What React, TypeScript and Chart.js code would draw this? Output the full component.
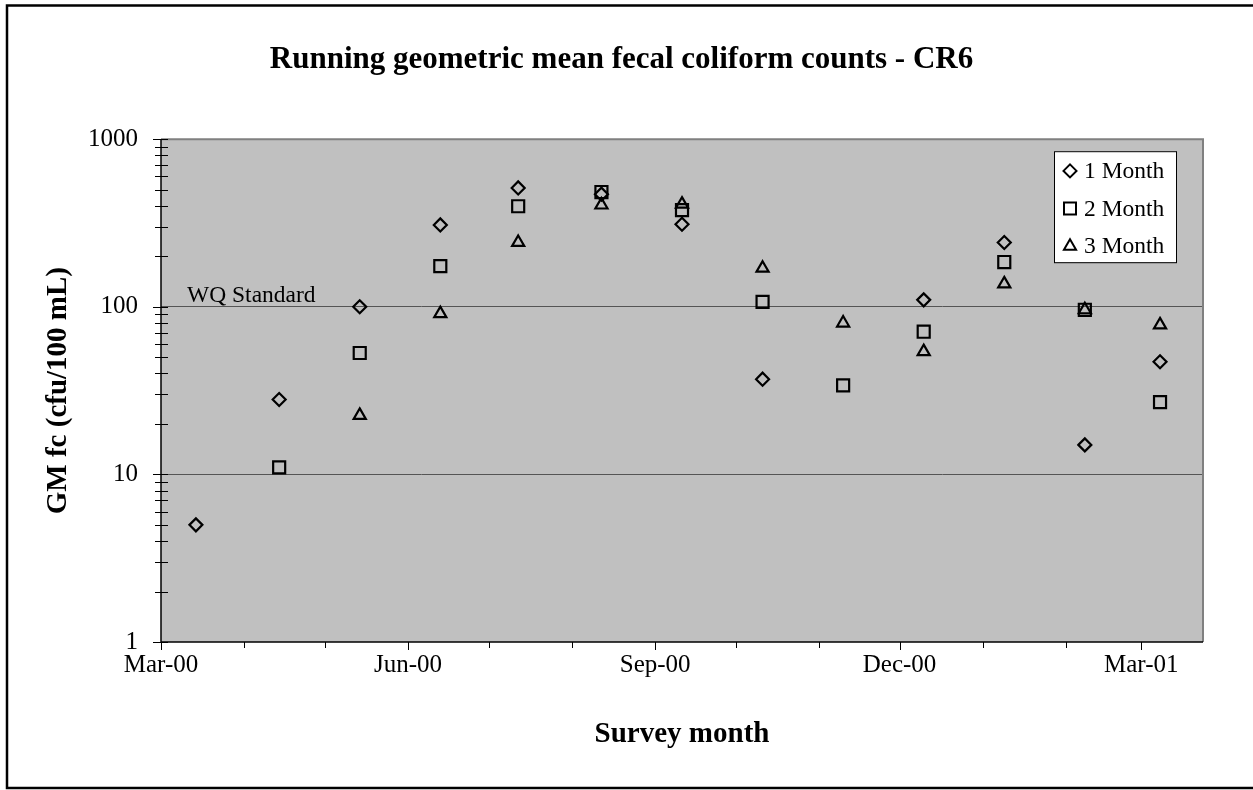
import React, { useEffect, useRef } from 'react';
import { Chart, registerables } from 'chart.js';

Chart.register(...registerables);

// ---------------- data ----------------
const surveyDates = [
  '2000-03-14', '2000-04-14', '2000-05-14', '2000-06-13', '2000-07-12', '2000-08-12', '2000-09-11',
  '2000-10-11', '2000-11-10', '2000-12-10', '2001-01-09', '2001-02-08', '2001-03-08',
];
const oneMonth = [5, 28, 100, 308, 512, 470, 311, 37, null, 110, 242, 15, 47];
const twoMonth = [null, 11, 53, 175, 398, 484, 377, 107, 34, 71, 185, 96, 27];
const threeMonth = [null, null, 22.5, 91, 242, 405, 410, 170, 80, 54, 137, 96, 78];
const seriesNames = ['1 Month', '2 Month', '3 Month'];

const axisStart = '2000-03-01';
const axisEnd = '2001-03-24';
const monthTicks = [
  '2000-03-01', '2000-04-01', '2000-05-01', '2000-06-01', '2000-07-01', '2000-08-01', '2000-09-01',
  '2000-10-01', '2000-11-01', '2000-12-01', '2001-01-01', '2001-02-01', '2001-03-01',
];
const monthLabels = ['Mar-00', '', '', 'Jun-00', '', '', 'Sep-00', '', '', 'Dec-00', '', '', 'Mar-01'];
const yTicks = [1, 10, 100, 1000];
const wqStandard = 100;
const wqLabel = 'WQ Standard';

const titleText = 'Running geometric mean fecal coliform counts - CR6';
const xTitle = 'Survey month';
const yTitle = 'GM fc (cfu/100 mL)';

// ---------------- helpers ----------------
const SERIF = "'Liberation Serif', 'Times New Roman', serif";
const dayOf = (s: string) => (Date.parse(s) - Date.parse(axisStart)) / 86400000;

const toPoints = (vals: (number | null)[]) =>
  surveyDates
    .map((d, i) => ({ x: dayOf(d), y: vals[i] }))
    .filter((p) => p.y !== null) as { x: number; y: number }[];

function drawMarker(ctx: CanvasRenderingContext2D, style: string, x: number, y: number) {
  ctx.beginPath();
  if (style === 'diamond') {
    const r = 6.5;
    ctx.moveTo(x, y - r);
    ctx.lineTo(x + r, y);
    ctx.lineTo(x, y + r);
    ctx.lineTo(x - r, y);
    ctx.closePath();
  } else if (style === 'square') {
    const h = 6;
    ctx.rect(x - h, y - h, 2 * h, 2 * h);
  } else {
    const r = 7;
    ctx.moveTo(x, y - r);
    ctx.lineTo(x + r * Math.sin((2 * Math.PI) / 3), y + r / 2);
    ctx.lineTo(x - r * Math.sin((2 * Math.PI) / 3), y + r / 2);
    ctx.closePath();
  }
  ctx.stroke();
}

const decorPlugin = {
  id: 'decor',
  beforeDraw(chart: any) {
    const { ctx, chartArea: a } = chart;
    ctx.save();
    ctx.fillStyle = '#ffffff';
    ctx.fillRect(0, 0, chart.width, chart.height);
    ctx.fillStyle = '#C0C0C0';
    ctx.fillRect(a.left, a.top, a.right - a.left, a.bottom - a.top);
    // outer frame
    ctx.strokeStyle = '#000';
    ctx.lineWidth = 2.5;
    ctx.beginPath();
    ctx.moveTo(chart.width + 5, 5.5);
    ctx.lineTo(7, 5.5);
    ctx.lineTo(7, 788);
    ctx.lineTo(chart.width + 5, 788);
    ctx.stroke();
    ctx.restore();
  },
  afterDraw(chart: any) {
    const { ctx, chartArea: a } = chart;
    const xs = chart.scales.x;
    const ys = chart.scales.y;
    ctx.save();
    // plot border: top & right grey
    ctx.strokeStyle = '#808080';
    ctx.lineWidth = 2;
    ctx.beginPath();
    ctx.moveTo(a.left, a.top);
    ctx.lineTo(a.right, a.top);
    ctx.lineTo(a.right, a.bottom);
    ctx.stroke();
    // axes
    ctx.strokeStyle = '#000';
    ctx.lineWidth = 1.5;
    ctx.beginPath();
    ctx.moveTo(a.left, a.top);
    ctx.lineTo(a.left, a.bottom);
    ctx.lineTo(a.right, a.bottom);
    ctx.stroke();
    // y tick marks (crossing the axis)
    ctx.lineWidth = 1;
    ctx.beginPath();
    for (let d = 1; d <= 1000; d *= 10) {
      const py = Math.round(ys.getPixelForValue(d)) + 0.5;
      ctx.moveTo(a.left - 8, py);
      ctx.lineTo(a.left + 7, py);
      if (d < 1000) {
        for (let m = 2; m <= 9; m++) {
          const pm = Math.round(ys.getPixelForValue(m * d)) + 0.5;
          ctx.moveTo(a.left - 6, pm);
          ctx.lineTo(a.left + 7, pm);
        }
      }
    }
    // x tick marks
    monthTicks.forEach((m, i) => {
      const px = Math.round(xs.getPixelForValue(dayOf(m))) + 0.5;
      ctx.moveTo(px, a.bottom);
      ctx.lineTo(px, a.bottom + (monthLabels[i] ? 8 : 6));
    });
    ctx.stroke();

    // WQ standard label
    ctx.fillStyle = '#000';
    ctx.font = `23.5px ${SERIF}`;
    ctx.textAlign = 'left';
    ctx.textBaseline = 'alphabetic';
    ctx.fillText(wqLabel, a.left + 26, ys.getPixelForValue(wqStandard) - 5);

    // legend
    const lw = 122;
    const lh = 111;
    const lx = a.right - 149;
    const ly = a.top + 12;
    ctx.fillStyle = '#fff';
    ctx.fillRect(lx, ly, lw, lh);
    ctx.strokeStyle = '#000';
    ctx.lineWidth = 1;
    ctx.strokeRect(lx + 0.5, ly + 0.5, lw, lh);
    const styles = ['diamond', 'square', 'triangle'];
    seriesNames.forEach((name, i) => {
      const cy = ly + 19.7 + i * 37.7;
      ctx.lineWidth = 2;
      ctx.strokeStyle = '#000';
      drawMarker(ctx, styles[i], lx + 16, cy);
      ctx.fillStyle = '#000';
      ctx.font = `23.5px ${SERIF}`;
      ctx.textBaseline = 'middle';
      ctx.fillText(name, lx + 30, cy + 1);
    });
    ctx.restore();
  },
};

export default function App() {
  const ref = useRef<HTMLCanvasElement | null>(null);

  useEffect(() => {
    if (!ref.current) return;
    const common = {
      borderColor: '#000',
      backgroundColor: 'rgba(0,0,0,0)',
      pointBorderColor: '#000',
      pointBackgroundColor: 'rgba(0,0,0,0)',
      pointBorderWidth: 2.2,
      showLine: false,
    };
    const chart = new Chart(ref.current, {
      type: 'scatter',
      data: {
        datasets: [
          { ...common, label: seriesNames[0], data: toPoints(oneMonth), pointStyle: 'rectRot', pointRadius: 6.5, pointHoverRadius: 6.5 },
          { ...common, label: seriesNames[1], data: toPoints(twoMonth), pointStyle: 'rect', pointRadius: 8.5, pointHoverRadius: 8.5 },
          { ...common, label: seriesNames[2], data: toPoints(threeMonth), pointStyle: 'triangle', pointRadius: 7, pointHoverRadius: 7 },
        ],
      },
      options: {
        responsive: false,
        animation: false,
        devicePixelRatio: 1,
        layout: { padding: { left: 0, right: 10, top: 0, bottom: 0 } },
        plugins: {
          legend: { display: false },
          tooltip: { enabled: false },
          title: {
            display: true,
            text: titleText,
            color: '#000',
            font: { family: SERIF, size: 31, weight: 'bold' },
            padding: { top: 41, bottom: 61 },
          },
        },
        scales: {
          x: {
            type: 'linear',
            min: 0,
            max: dayOf(axisEnd),
            grid: { display: false },
            border: { display: false },
            afterBuildTicks: (s: any) => {
              s.ticks = monthTicks.map((m) => ({ value: dayOf(m) }));
            },
            afterFit: (s: any) => {
              s.height = 148;
            },
            ticks: {
              autoSkip: false,
              maxRotation: 0,
              minRotation: 0,
              padding: 0,
              color: '#000',
              font: { family: SERIF, size: 25 },
              callback: (_v: any, i: number) => monthLabels[i],
            },
            title: {
              display: true,
              text: xTitle,
              color: '#000',
              font: { family: SERIF, size: 29, weight: 'bold' },
              padding: { top: 0, bottom: 38 },
            },
          },
          y: {
            type: 'logarithmic',
            min: 1,
            max: 1000,
            border: { display: false },
            grid: {
              drawTicks: false,
              lineWidth: 1,
              color: (c: any) => (c.tick && (c.tick.value === 10 || c.tick.value === 100) ? '#555555' : 'rgba(0,0,0,0)'),
            },
            afterBuildTicks: (s: any) => {
              s.ticks = yTicks.map((v) => ({ value: v }));
            },
            afterFit: (s: any) => {
              s.width = 161;
            },
            ticks: {
              padding: 23,
              color: '#000',
              font: { family: SERIF, size: 25 },
              callback: (v: any) => String(v),
            },
            title: {
              display: true,
              text: yTitle,
              color: '#000',
              font: { family: SERIF, size: 29, weight: 'bold' },
              padding: { top: 41.5, bottom: 0 },
            },
          },
          yRight: {
            type: 'linear',
            position: 'right',
            display: true,
            grid: { display: false },
            border: { display: false },
            ticks: { display: false },
            afterFit: (s: any) => {
              s.width = 40;
            },
          },
        },
      },
      plugins: [decorPlugin],
    } as any);
    return () => chart.destroy();
  }, []);

  return (
    <div style={{ position: 'absolute', left: 0, top: 0, width: 1253, height: 790 }}>
      <canvas ref={ref} width={1253} height={790} style={{ display: 'block' }} />
    </div>
  );
}
